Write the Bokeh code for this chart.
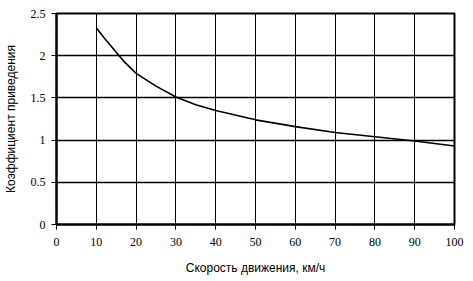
from bokeh.plotting import figure
from bokeh.models import Range1d, FixedTicker
from bokeh.embed import file_html
from bokeh.resources import INLINE

speed = [10, 12, 15, 17, 20, 25, 30, 35, 40, 50, 60, 70, 80, 90, 100]
coef = [2.33, 2.21, 2.04, 1.93, 1.79, 1.64, 1.51, 1.42, 1.35, 1.24, 1.16, 1.09, 1.04, 0.99, 0.93]
x_ticks = [0, 10, 20, 30, 40, 50, 60, 70, 80, 90, 100]
y_ticks = [0, 0.5, 1, 1.5, 2, 2.5]
x_title = "Скорость движения, км/ч"
y_title = "Коэффициент приведения"

p = figure(width=473, height=281, output_backend="svg", toolbar_location=None,
           x_range=Range1d(0, 100), y_range=Range1d(0, 2.5),
           min_border_left=53, min_border_right=19, min_border_top=13, min_border_bottom=57)

p.line(speed, coef, line_color="black", line_width=1.6)

p.xaxis.ticker = FixedTicker(ticks=x_ticks)
p.yaxis.ticker = FixedTicker(ticks=y_ticks)
p.yaxis.major_label_overrides = {0: "0", 0.5: "0.5", 1: "1", 1.5: "1.5", 2: "2", 2.5: "2.5"}
for ax in (p.xaxis, p.yaxis):
    ax.axis_line_color = "black"
    ax.axis_line_width = 2
    ax.major_tick_line_color = "black"
    ax.major_tick_in = 0
    ax.major_tick_out = 5
    ax.minor_tick_line_color = None
    ax.major_label_text_font = "Liberation Serif"
    ax.major_label_text_font_size = "12px"
    ax.major_label_text_color = "black"
    ax.axis_label_text_font = "Liberation Sans"
    ax.axis_label_text_font_size = "12px"
    ax.axis_label_text_font_style = "normal"
    ax.axis_label_text_color = "black"

p.xaxis.axis_label = x_title
p.yaxis.axis_label = y_title
p.xaxis.major_label_standoff = 8
p.xaxis.axis_label_standoff = 12
p.yaxis.major_label_standoff = 6
p.yaxis.axis_label_standoff = 10

p.xgrid.ticker = FixedTicker(ticks=x_ticks)
p.ygrid.ticker = FixedTicker(ticks=y_ticks)
p.grid.grid_line_color = "black"
p.grid.grid_line_width = 1
p.grid.grid_line_alpha = 1
p.ygrid.grid_line_width = 1.5

p.outline_line_color = "black"
p.outline_line_width = 2
p.background_fill_color = "white"
p.border_fill_color = "white"

open("out.html", "w").write(file_html(p, INLINE))
